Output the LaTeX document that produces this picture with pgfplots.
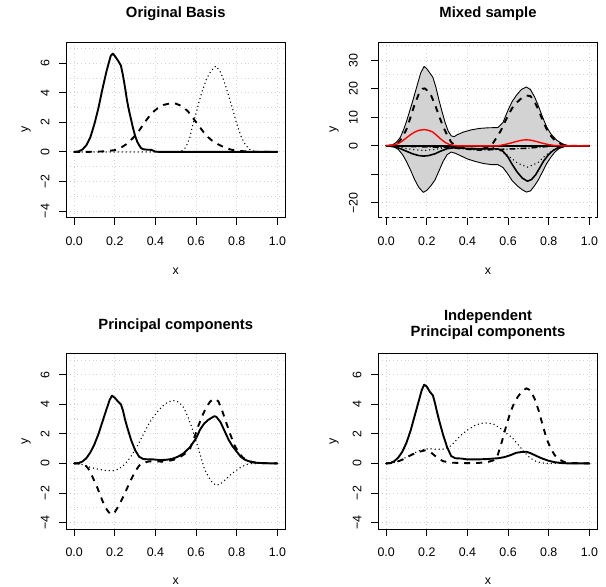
\documentclass[border=0pt]{standalone}
\usepackage{pgfplots}
\pgfplotsset{compat=1.18}
\usepackage{fontspec}
\setmainfont{Liberation Sans}
\definecolor{rlight}{HTML}{D3D3D3}
\definecolor{rred}{HTML}{FF0000}
\newcommand\tickfont{\fontsize{12.4bp}{14bp}\selectfont}
\newcommand\titlefont{\fontsize{14.8bp}{17bp}\selectfont\bfseries}
\pgfplotsset{
  rbase/.style={
    scale only axis, width=219.5bp, height=175.5bp,
    xmin=-0.04, xmax=1.04,
    xtick={0,0.2,0.4,0.6,0.8,1},
    xticklabels={0.0,0.2,0.4,0.6,0.8,1.0},
    xtick pos=bottom, ytick pos=left,
    tick align=outside,
    major tick length=7.4bp, minor tick length=0pt,
    tick style={black, line width=0.9bp},
    axis line style={black, line width=0.9bp},
    grid=both,
    major grid style={rlight, line width=0.9bp, dash pattern=on 0.9bp off 2.9bp},
    minor grid style={rlight, line width=0.9bp, dash pattern=on 0.9bp off 2.9bp},
    ticklabel style={font=\tickfont},
    xticklabel style={anchor=base, inner sep=0pt},
    yticklabel style={rotate=90, anchor=base, inner sep=0pt},
    xticklabel shift=20.2bp,
    yticklabel shift=9.3bp,
    clip=false,
  },
  sol/.style={black, line width=1.9bp, line join=round, line cap=round},
  das/.style={black, line width=1.9bp, dash pattern=on 6bp off 6bp},
  dot/.style={black, line width=1.5bp, line cap=round, dash pattern=on 0pt off 4bp},
  ddash/.style={black, line width=1.5bp, line cap=round, dash pattern=on 0pt off 3bp on 5bp off 3bp},
}
\begin{document}
\begin{tikzpicture}[x=1bp,y=1bp]
\useasboundingbox (0,0) rectangle (606,-587);
% ---------------- Panel 1
\begin{axis}[rbase, at={(66bp,-42bp)}, anchor=north west,
  ymin=-4.44, ymax=7.44, ytick={-4,-2,0,2,4,6}, yticklabels={−4,−2,0,2,4,6},
  minor ytick={-4,-3,...,7}]
\addplot[dot] coordinates {(0,0)(0.5,0)(0.51,0.02)(0.53,0.08)(0.55,0.3)(0.57,1.0)(0.585,1.9)(0.6,2.6)(0.615,3.4)(0.63,4.1)(0.65,4.9)(0.67,5.4)(0.69,5.75)(0.7,5.8)(0.72,5.4)(0.74,4.7)(0.76,3.8)(0.78,2.9)(0.8,1.9)(0.82,1.1)(0.84,0.55)(0.86,0.2)(0.88,0.06)(0.9,0.02)(1,0)};
\addplot[das] coordinates {(0,0)(0.1,0.01)(0.15,0.04)(0.2,0.12)(0.23,0.28)(0.26,0.55)(0.29,0.95)(0.32,1.45)(0.35,2.05)(0.38,2.6)(0.41,2.95)(0.44,3.18)(0.47,3.28)(0.5,3.27)(0.53,3.1)(0.56,2.75)(0.59,2.2)(0.62,1.65)(0.65,1.1)(0.68,0.75)(0.71,0.5)(0.74,0.3)(0.77,0.16)(0.8,0.08)(0.83,0.05)(0.86,0.02)(0.9,0)(1,0)};
\addplot[sol] coordinates {(0,0)(0.02,0.03)(0.04,0.15)(0.06,0.45)(0.08,1.0)(0.1,1.9)(0.12,3.0)(0.14,4.3)(0.16,5.5)(0.18,6.5)(0.19,6.65)(0.2,6.5)(0.215,6.2)(0.23,5.85)(0.24,5.2)(0.25,4.4)(0.26,3.5)(0.27,2.8)(0.28,2.2)(0.29,1.6)(0.3,1.1)(0.31,0.7)(0.32,0.45)(0.33,0.25)(0.34,0.18)(0.36,0.15)(0.38,0.14)(0.39,0.08)(0.4,0.02)(0.42,0)(1,0)};
\end{axis}
% ---------------- Panel 2
\begin{axis}[rbase, at={(378bp,-42bp)}, anchor=north west,
  ymin=-25.1, ymax=36.35, ytick={-20,-10,0,10,20,30}, yticklabels={−20,,0,10,20,30},
  minor ytick={-25,-15,-5,5,15,25,35}, axis line style={draw=none},
  yticklabel shift=12.9bp]
\draw[black, line width=0.9bp] (rel axis cs:0,0) -- (rel axis cs:0,1) -- (rel axis cs:1,1) -- (rel axis cs:1,0);
\draw[black, line width=0.9bp, dash pattern=on 4bp off 3bp] (rel axis cs:0,0) -- (rel axis cs:1,0);
\addplot[fill=rlight, draw=black, line width=0.9bp, line join=round] coordinates {(0,0)(0.03,0.3)(0.05,1.2)(0.07,3)(0.085,5.5)(0.1,8.5)(0.115,12)(0.13,15.5)(0.15,20.5)(0.17,25.5)(0.187,27.8)(0.2,27)(0.215,25.5)(0.23,24)(0.245,20.5)(0.26,16)(0.275,12)(0.29,8.2)(0.305,5.2)(0.32,3.5)(0.335,3.2)(0.35,3.9)(0.38,4.8)(0.42,5.6)(0.46,6.1)(0.5,6.3)(0.55,6.4)(0.575,8.2)(0.6,12.5)(0.62,15.5)(0.64,17.6)(0.665,19.7)(0.69,20.6)(0.71,19.7)(0.73,17.2)(0.75,13.8)(0.77,10)(0.79,6.6)(0.81,4.2)(0.84,1.9)(0.87,0.6)(0.9,0)
(0.88,-0.2)(0.85,-1)(0.83,-2.2)(0.81,-4)(0.79,-6.2)(0.77,-9)(0.75,-11.8)(0.73,-14)(0.71,-15.8)(0.69,-16.2)(0.67,-15.4)(0.645,-14)(0.62,-12.2)(0.6,-10)(0.575,-7.6)(0.55,-6.6)(0.52,-6.6)(0.48,-6.2)(0.44,-5.5)(0.4,-4.6)(0.37,-3.6)(0.34,-2.6)(0.32,-2.2)(0.3,-3.1)(0.28,-5.5)(0.26,-8.8)(0.24,-12)(0.22,-14)(0.2,-15.6)(0.183,-16.3)(0.16,-14.5)(0.14,-11.8)(0.12,-8.5)(0.1,-5.5)(0.08,-3)(0.06,-1.3)(0.04,-0.4)(0,0)};
\addplot[das] coordinates {(0,0)(0.03,0.1)(0.06,1)(0.08,3)(0.1,5.8)(0.12,10)(0.14,14.5)(0.16,18)(0.18,20)(0.19,20.1)(0.2,19.5)(0.22,17.8)(0.24,14.5)(0.26,10.5)(0.28,6.8)(0.3,3.8)(0.32,1.3)(0.34,0)(0.37,-0.6)(0.42,-1.0)(0.47,-1.1)(0.5,-0.5)(0.52,0.3)(0.54,2.5)(0.565,5.4)(0.585,8.5)(0.6,10.6)(0.62,13.2)(0.64,15)(0.665,16.6)(0.69,17.6)(0.71,17.4)(0.73,15.5)(0.75,12.5)(0.77,8.9)(0.79,5.8)(0.81,3.5)(0.83,1.9)(0.86,0.6)(0.89,0)(1,0)};
\addplot[dot] coordinates {(0,0)(0.05,-0.2)(0.09,-0.8)(0.14,-1.4)(0.19,-1.6)(0.24,-1.3)(0.29,-0.6)(0.33,0)(0.5,0)(0.53,-0.6)(0.56,-1.6)(0.6,-3.4)(0.645,-6)(0.695,-7.5)(0.745,-6)(0.79,-3)(0.84,-0.8)(0.88,0)(1,0)};
\addplot[ddash] coordinates {(0,0)(0.1,-0.2)(0.2,-0.4)(0.3,-0.6)(0.35,-0.9)(0.4,-1.2)(0.45,-1.5)(0.5,-1.4)(0.55,-1.3)(0.6,-1.1)(0.65,-1.0)(0.7,-0.8)(0.75,-0.5)(0.8,-0.2)(0.85,-0.05)(0.9,0)(1,0)};
\addplot[sol, line width=1.6bp] coordinates {(0,0)(0.04,-0.3)(0.07,-1)(0.1,-1.9)(0.13,-2.8)(0.16,-3.4)(0.185,-3.6)(0.21,-3.4)(0.24,-2.8)(0.27,-1.8)(0.3,-1.0)(0.33,-0.7)(0.37,-0.8)(0.42,-1.0)(0.47,-1.1)(0.52,-1.0)(0.55,-1.1)(0.575,-1.9)(0.6,-4)(0.62,-6.5)(0.645,-9.2)(0.67,-11.3)(0.695,-12.4)(0.715,-11.8)(0.735,-10.2)(0.755,-7.8)(0.775,-5.3)(0.8,-3)(0.82,-1.7)(0.85,-0.5)(0.88,-0.1)(0.9,0)(1,0)};
\addplot[black, line width=2.6bp] coordinates {(0,0)(1,0)};
\addplot[rred, line width=1.4bp, line join=round] coordinates {(0,0)(0.04,0.3)(0.06,0.8)(0.08,1.7)(0.1,2.8)(0.12,3.9)(0.14,4.8)(0.16,5.4)(0.187,5.7)(0.21,5.4)(0.23,4.8)(0.25,3.6)(0.27,2.3)(0.29,1.2)(0.31,0.5)(0.33,0.15)(0.35,0)(0.55,0)(0.58,0.4)(0.61,0.9)(0.64,1.5)(0.67,2)(0.69,2.1)(0.71,2.0)(0.74,1.5)(0.77,0.9)(0.8,0.4)(0.83,0.1)(0.86,0)(1,0)};
\end{axis}
% ---------------- Panel 3
\begin{axis}[rbase, at={(66bp,-353.5bp)}, anchor=north west,
  ymin=-4.44, ymax=7.44, ytick={-4,-2,0,2,4,6}, yticklabels={−4,−2,0,2,4,6},
  minor ytick={-4,-3,...,7}]
\addplot[dot] coordinates {(0,0)(0.03,-0.05)(0.06,-0.18)(0.09,-0.3)(0.12,-0.4)(0.15,-0.47)(0.19,-0.5)(0.22,-0.38)(0.25,-0.05)(0.27,0.3)(0.29,0.7)(0.31,1.17)(0.33,1.7)(0.35,2.2)(0.37,2.75)(0.39,3.15)(0.41,3.5)(0.43,3.8)(0.45,4.05)(0.48,4.25)(0.5,4.25)(0.52,4.1)(0.54,3.75)(0.56,3.15)(0.58,2.4)(0.6,1.5)(0.62,0.6)(0.64,-0.35)(0.66,-0.9)(0.68,-1.3)(0.7,-1.48)(0.72,-1.4)(0.74,-1.15)(0.76,-0.9)(0.78,-0.65)(0.8,-0.45)(0.82,-0.27)(0.84,-0.12)(0.86,-0.03)(0.9,0)(1,0)};
\addplot[das] coordinates {(0,0)(0.04,0)(0.05,-0.05)(0.07,-0.35)(0.09,-0.9)(0.11,-1.5)(0.13,-2.2)(0.15,-2.9)(0.17,-3.3)(0.185,-3.45)(0.2,-3.3)(0.22,-2.85)(0.24,-2.3)(0.26,-1.7)(0.28,-1.1)(0.3,-0.55)(0.32,-0.15)(0.34,0.05)(0.37,0.14)(0.4,0.15)(0.43,0.12)(0.46,0.15)(0.49,0.25)(0.52,0.42)(0.55,0.7)(0.57,1.0)(0.59,1.7)(0.61,2.5)(0.63,3.2)(0.65,3.8)(0.67,4.2)(0.69,4.38)(0.71,4.2)(0.73,3.5)(0.75,2.7)(0.77,1.9)(0.79,1.2)(0.81,0.72)(0.83,0.4)(0.85,0.22)(0.88,0.08)(0.92,0.02)(1,0)};
\addplot[sol] coordinates {(0,0)(0.02,0.02)(0.04,0.12)(0.06,0.35)(0.08,0.75)(0.1,1.3)(0.12,2.0)(0.14,2.85)(0.16,3.7)(0.175,4.3)(0.186,4.58)(0.2,4.45)(0.215,4.2)(0.23,4.0)(0.24,3.6)(0.25,3.0)(0.26,2.5)(0.28,1.6)(0.3,0.9)(0.32,0.45)(0.34,0.3)(0.36,0.28)(0.39,0.27)(0.42,0.23)(0.45,0.24)(0.48,0.3)(0.51,0.45)(0.54,0.7)(0.57,1.1)(0.6,1.7)(0.62,2.3)(0.64,2.7)(0.66,2.95)(0.69,3.2)(0.7,3.15)(0.72,2.8)(0.74,2.2)(0.76,1.6)(0.78,1.15)(0.8,0.8)(0.82,0.45)(0.84,0.25)(0.87,0.1)(0.9,0.04)(0.95,0.01)(1,0)};
\end{axis}
% ---------------- Panel 4
\begin{axis}[rbase, at={(378bp,-353.5bp)}, anchor=north west,
  ymin=-4.44, ymax=7.44, ytick={-4,-2,0,2,4,6}, yticklabels={−4,−2,0,2,4,6},
  minor ytick={-4,-3,...,7}]
\addplot[dot] coordinates {(0,0)(0.05,0.08)(0.09,0.35)(0.13,0.65)(0.17,0.9)(0.21,1.0)(0.25,0.95)(0.29,0.98)(0.32,1.2)(0.35,1.65)(0.38,2.05)(0.41,2.35)(0.44,2.6)(0.47,2.72)(0.5,2.74)(0.53,2.65)(0.56,2.4)(0.59,2.05)(0.62,1.75)(0.65,1.25)(0.68,0.75)(0.71,0.35)(0.74,0.12)(0.77,0.03)(0.8,0)(1,0)};
\addplot[das] coordinates {(0,0)(0.04,0.05)(0.08,0.25)(0.12,0.55)(0.16,0.78)(0.19,0.88)(0.22,0.75)(0.25,0.4)(0.28,0.15)(0.32,0.05)(0.4,0.02)(0.45,0.03)(0.5,0.09)(0.53,0.22)(0.55,0.6)(0.57,1.5)(0.59,2.5)(0.61,3.4)(0.63,4.1)(0.65,4.55)(0.67,4.9)(0.69,5.08)(0.71,4.95)(0.73,4.4)(0.75,3.6)(0.77,2.6)(0.79,1.65)(0.81,1.0)(0.83,0.55)(0.85,0.27)(0.88,0.08)(0.92,0.02)(1,0)};
\addplot[sol] coordinates {(0,0)(0.02,0.02)(0.04,0.15)(0.06,0.4)(0.08,0.8)(0.1,1.4)(0.12,2.2)(0.14,3.2)(0.16,4.2)(0.175,4.95)(0.187,5.33)(0.2,5.2)(0.215,4.85)(0.23,4.6)(0.24,4.1)(0.25,3.5)(0.26,2.95)(0.28,1.95)(0.3,1.1)(0.32,0.5)(0.34,0.35)(0.37,0.33)(0.4,0.27)(0.45,0.27)(0.5,0.3)(0.55,0.35)(0.58,0.42)(0.61,0.55)(0.64,0.72)(0.67,0.78)(0.69,0.79)(0.71,0.7)(0.74,0.5)(0.77,0.32)(0.8,0.18)(0.83,0.08)(0.87,0.02)(0.9,0)(1,0)};
\end{axis}
% ---------------- Titles and axis labels
\node[anchor=base, font=\titlefont] at (175.75,-17.3) {Original Basis};
\node[anchor=base, font=\titlefont] at (488,-17.3) {Mixed sample};
\node[anchor=base, font=\titlefont] at (175.75,-329.3) {Principal components};
\node[anchor=base, font=\titlefont] at (488,-320) {Independent};
\node[anchor=base, font=\titlefont] at (488,-336.6) {Principal components};
\node[anchor=base, font=\tickfont] at (175.75,-274) {x};
\node[anchor=base, font=\tickfont] at (488,-274) {x};
\node[anchor=base, font=\tickfont] at (175.75,-584.5) {x};
\node[anchor=base, font=\tickfont] at (488,-584.5) {x};
\node[anchor=base, rotate=90, font=\tickfont] at (28,-129.75) {y};
\node[anchor=base, rotate=90, font=\tickfont] at (336,-129.75) {y};
\node[anchor=base, rotate=90, font=\tickfont] at (28,-441.5) {y};
\node[anchor=base, rotate=90, font=\tickfont] at (336,-441.5) {y};
\end{tikzpicture}
\end{document}
